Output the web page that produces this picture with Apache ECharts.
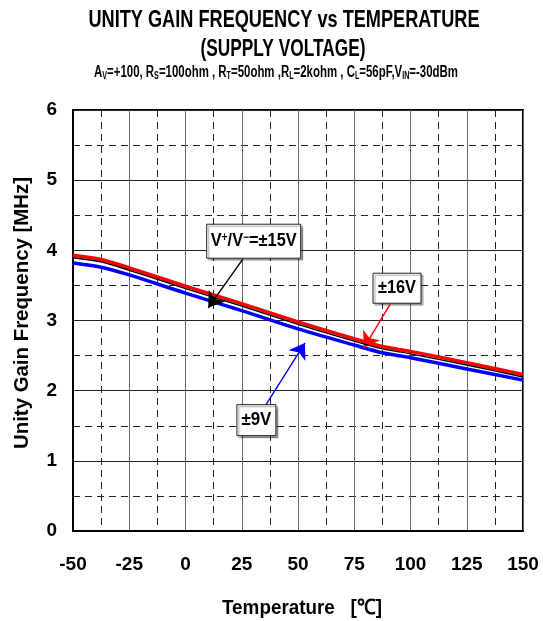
<!DOCTYPE html>
<html><head><meta charset="utf-8">
<script src="https://cdn.jsdelivr.net/npm/echarts@6/dist/echarts.min.js"></script>
<style>html,body{margin:0;padding:0;background:#fff}#c{width:543px;height:621px}</style>
</head><body><div id="c"></div>
<script>
// ---- data ----
const temps = [-50, -37.5, -25, 0, 25, 50, 75, 87.5, 100, 125, 150];
const v16 = [3.93, 3.87, 3.75, 3.49, 3.24, 2.98, 2.74, 2.63, 2.56, 2.40, 2.23];
const v15 = [3.895, 3.835, 3.715, 3.455, 3.205, 2.945, 2.705, 2.595, 2.525, 2.365, 2.195];
const v9  = [3.82, 3.76, 3.65, 3.39, 3.14, 2.88, 2.65, 2.54, 2.47, 2.31, 2.15];
const xTicks = [-50, -25, 0, 25, 50, 75, 100, 125, 150];
const yTicks = [0, 1, 2, 3, 4, 5, 6];
const title1 = 'UNITY GAIN FREQUENCY vs TEMPERATURE';
const title2 = '(SUPPLY VOLTAGE)';
const condSegs = [['A',0],['V',1],['=+100, R',0],['S',1],['=100ohm , R',0],['T',1],['=50ohm ,R',0],['L',1],['=2kohm , C',0],['L',1],['=56pF,V',0],['IN',1],['=-30dBm',0]];
const yName = 'Unity Gain Frequency [MHz]';
const xName = 'Temperature   [℃]';
// annotation labels (data coords): box centre, arrow start, arrow tip
const notes = [
  {segs:[['V',0],['+',2],['/V',0],['−',2],['=±15V',0]], color:'#000', box:[30.3,4.13], bw:94, bh:34, tw:86, from:[25.4,3.87], to:[10.1,3.18]},
  {segs:[['±16V',0]], color:'#ff0000', box:[94,3.46], bw:48, bh:30, tw:38, from:[90.9,3.23], to:[79.3,2.61]},
  {segs:[['±9V',0]], color:'#0000ff', box:[31.5,1.58], bw:39, bh:31, tw:30, from:[35.8,1.80], to:[53.1,2.68]}
];

const FF = '"Liberation Sans",sans-serif';
const cv = document.createElement('canvas').getContext('2d');
function mw(font, s){ cv.font = font; return cv.measureText(s).width; }

const chart = echarts.init(document.getElementById('c'), null, {renderer:'canvas'});
const mk = (arr) => temps.map((t,i)=>[t, arr[i]]);

function markArrow(n){
  return {silent:true, symbol:['none','arrow'], symbolSize:15, animation:false,
    label:{show:false}, lineStyle:{color:n.color, width:1.4, type:'solid'},
    emphasis:{disabled:true},
    data:[[{coord:n.from},{coord:n.to}]]};
}

chart.setOption({
  animation:false,
  backgroundColor:'#fff',
  grid:{left:73, right:20, top:110, bottom:90, show:true, borderColor:'#000', borderWidth:2},
  xAxis:{type:'value', min:-50, max:150, interval:25,
    axisLine:{show:true, onZero:false, lineStyle:{color:'#000', width:2}},
    axisTick:{show:false},
    minorTick:{show:false, splitNumber:2},
    axisLabel:{customValues:xTicks, margin:24, color:'#000', fontFamily:FF, fontWeight:'bold', fontSize:19},
    splitLine:{show:true, lineStyle:{color:'#666', width:1}},
    minorSplitLine:{show:true, lineStyle:{color:'#222', width:1, type:[7,5]}}},
  yAxis:{type:'value', min:0, max:6, interval:1,
    axisLine:{show:true, onZero:false, lineStyle:{color:'#000', width:2}},
    axisTick:{show:false},
    minorTick:{show:false, splitNumber:2},
    axisLabel:{customValues:yTicks, margin:16, color:'#000', fontFamily:FF, fontWeight:'bold', fontSize:19},
    splitLine:{show:true, lineStyle:{color:'#222', width:1}},
    minorSplitLine:{show:true, lineStyle:{color:'#222', width:1, type:[7,5]}}},
  series:[
    {name:'±9V', type:'line', data:mk(v9), symbol:'none', smooth:0.3, z:3,
     lineStyle:{color:'#0000ff', width:3.5}, markLine:markArrow(notes[2])},
    {name:'±16V', type:'line', data:mk(v16), symbol:'none', smooth:0.3, z:4,
     lineStyle:{color:'#ff0000', width:3.5}, markLine:markArrow(notes[1])},
    {name:'±15V', type:'line', data:mk(v15), symbol:'none', smooth:0.3, z:5,
     lineStyle:{color:'#000', width:1.4}, markLine:markArrow(notes[0])}
  ]
});

// ---- texts ----
const g = [];
function fitText(text, font, target, x, y, rot){
  const s = target / mw(font, text);
  g.push({type:'text', x:x, y:y, rotation:rot||0, scaleX:s, silent:true,
    style:{text:text, font:font, fill:'#000', align:'center', verticalAlign:'middle'}});
}
function richText(segs, base, sub, target, x, y, z){
  const bf = 'bold '+base+'px '+FF, sf = 'bold '+sub+'px '+FF;
  let w = 0, str = '';
  segs.forEach(([t,k])=>{ w += mw(k? sf: bf, t); str += '{'+(k===0?'b':(k===1?'s':'p'))+'|'+t+'}'; });
  const sc = target / w;
  g.push({type:'text', x:x, y:y, scaleX:sc, silent:true, z:z||10,
    style:{text:str, align:'center', verticalAlign:'middle', fill:'#000',
      rich:{b:{font:bf, fill:'#000', verticalAlign:'middle'},
            s:{font:sf, fill:'#000', verticalAlign:'bottom'},
            p:{font:sf, fill:'#000', verticalAlign:'top'}}}});
}
fitText(title1, 'bold 24px '+FF, 391, 284, 20);
fitText(title2, 'bold 24px '+FF, 165, 283, 49);
richText(condSegs, 16, 10, 364, 276, 73);
fitText(yName, 'bold 20px '+FF, 272, 22, 313, Math.PI/2);
fitText(xName, 'bold 21px '+FF, 160, 302, 608);

notes.forEach(n=>{
  const p = chart.convertToPixel({gridIndex:0}, n.box);
  g.push({type:'rect', x:p[0]-n.bw/2, y:p[1]-n.bh/2, z:20, silent:true,
    shape:{width:n.bw, height:n.bh},
    style:{fill:'#fff', stroke:'#222', lineWidth:1, shadowColor:'rgba(0,0,0,0.35)', shadowOffsetX:2, shadowOffsetY:2, shadowBlur:1}});
  richText(n.segs, 19, 12, n.tw, p[0], p[1], 21);
});
chart.setOption({graphic:g});
</script>
</body></html>
